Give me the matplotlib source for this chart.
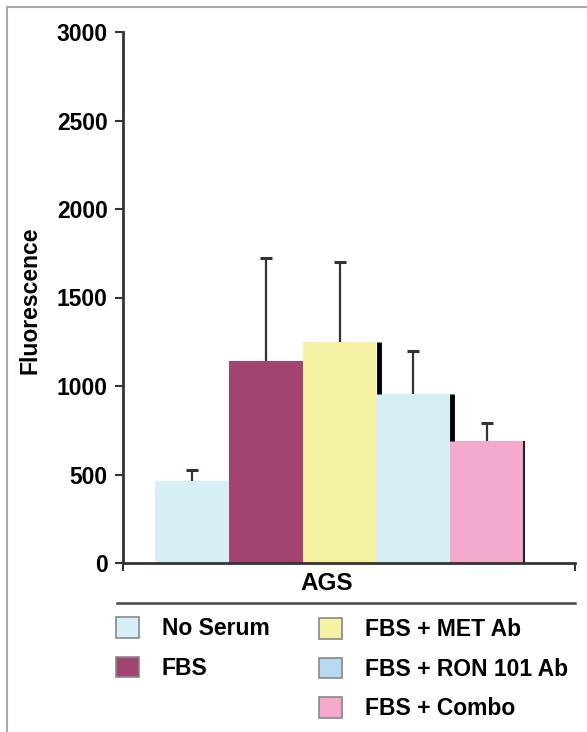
import matplotlib
matplotlib.use("Agg")
import matplotlib.pyplot as plt
from matplotlib.patches import Patch
from matplotlib.lines import Line2D

categories = ["No Serum", "FBS", "FBS + MET Ab", "FBS + RON 101 Ab", "FBS + Combo"]
values = [465, 1140, 1250, 953, 691]
err_upper = [60, 585, 452, 245, 102]
bar_colors = ["#d6eef5", "#a24471", "#f6f2a4", "#d6eef5", "#f4a8cb"]
legend_colors = ["#d6eef5", "#a24471", "#f6f2a4", "#b8d9f0", "#f4a8cb"]
yticks = [0, 500, 1000, 1500, 2000, 2500, 3000]
group_label = "AGS"

plt.rcParams['font.family'] = ['Liberation Sans', 'DejaVu Sans']
W, H = 587, 732
fig = plt.figure(figsize=(W / 100, H / 100), dpi=100)

ax_l, ax_r, ax_b, ax_t = 123, 575, 563, 32
ax = fig.add_axes([ax_l / W, 1 - ax_b / H, (ax_r - ax_l) / W, (ax_b - ax_t) / H])

x = list(range(len(values)))
ax.bar(x, values, width=1.0, color=bar_colors, edgecolor="none", zorder=2)
_, caps, _ = ax.errorbar(x, values, yerr=[[0] * len(values), err_upper], fmt="none",
                         ecolor="#333333", elinewidth=1.6, capsize=4, capthick=2.2, zorder=3)
caps[0].set_visible(False)  # only the upper caps

# dark edge shadows on the right sides of the bars
for i in range(2, 4):
    ax.vlines(i + 0.53, values[i + 1], values[i], color="black", lw=3.5, zorder=4)
ax.vlines(len(values) - 0.5, 0, values[-1], color="#222222", lw=1.5, zorder=4)

ax.set_ylim(0, 3000)
ax.set_xlim(-0.934, 5.19)
ax.set_yticks(yticks)
ax.set_yticklabels([str(t) for t in yticks], fontsize=16.5, fontweight="bold")
ax.set_xticks([-0.934, 5.19])
ax.set_xticklabels(["", ""])
ax.tick_params(axis="y", direction="out", length=6, width=1.5, color="#333333", pad=5)
ax.tick_params(axis="x", direction="out", length=6, width=1.5, color="#333333")
for s in ["top", "right"]:
    ax.spines[s].set_visible(False)
for s in ["left", "bottom"]:
    ax.spines[s].set_linewidth(2)
    ax.spines[s].set_color("#333333")
ax.set_ylabel("Fluorescence", fontsize=16.5, fontweight="bold")
ax.yaxis.set_label_coords(-(ax_l - 30) / (ax_r - ax_l), (ax_b - 300) / (ax_b - ax_t))
ax.yaxis.label.set_va("center")
ax.set_xlabel(group_label, fontsize=17.5, fontweight="bold")
ax.xaxis.set_label_coords((327 - ax_l) / (ax_r - ax_l), -(583 - ax_b) / (ax_b - ax_t))
ax.xaxis.label.set_va("center")

# horizontal separator under the group label
fig.add_artist(Line2D([117 / W, 575 / W], [1 - 603 / H, 1 - 603 / H], color="#444444", lw=1.8))
# page border (top and left)
fig.add_artist(Line2D([7 / W, 1], [1 - 7 / H, 1 - 7 / H], color="#aaaaaa", lw=1.5))
fig.add_artist(Line2D([7 / W, 7 / W], [0, 1 - 7 / H], color="#aaaaaa", lw=1.5))

handles = [Patch(facecolor=c, edgecolor="#888888", lw=1.2) for c in legend_colors]
leg_kw = dict(frameon=False, prop={"weight": "bold", "size": 16.5},
              handlelength=1.0, handleheight=1.0, handletextpad=1.0,
              labelspacing=0.72, borderpad=0, borderaxespad=0, loc="upper left")
leg1 = fig.legend(handles[:2], categories[:2], bbox_to_anchor=(116 / W, 1 - 617 / H), **leg_kw)
leg2 = fig.legend(handles[2:], categories[2:], bbox_to_anchor=(319 / W, 1 - 618 / H), **leg_kw)

fig.savefig("out.png", dpi=100)
